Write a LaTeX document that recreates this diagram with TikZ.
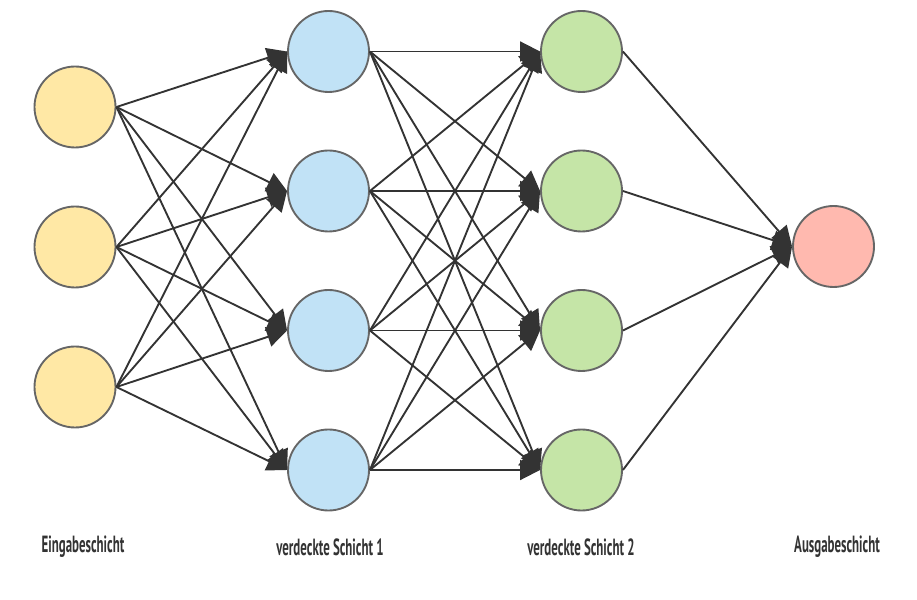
\documentclass[tikz,border=0pt]{standalone}
\usepackage{fontspec}
\newfontfamily\layerfont[UprightFont={* Bold}, FakeStretch=0.55]{PT Sans}
\usetikzlibrary{arrows.meta}
\definecolor{inyellow}{HTML}{FFE8A5}
\definecolor{hidblue}{HTML}{C1E2F6}
\definecolor{hidgreen}{HTML}{C5E5A7}
\definecolor{outred}{HTML}{FFB9AF}
\definecolor{ringgray}{HTML}{666666}
\definecolor{linkgray}{HTML}{333333}
\tikzset{
  neuron/.style={circle, draw=ringgray, line width=1.6pt, minimum size=2.43cm, inner sep=0pt},
  link/.style={draw=linkgray, line width=1.6pt, -{Triangle[length=0.6cm,width=0.6cm]}},
  layer/.style={font=\layerfont\fontsize{20}{22}\selectfont, text=linkgray}
}
\begin{document}
\begin{tikzpicture}[x=0.03cm, y=-0.03cm]
    \useasboundingbox (0,0) rectangle (917,600);
    % input layer
    \foreach \y [count=\i] in {107,247,387}
        \node[neuron, fill=inyellow] (in\i) at (75,\y) {};
    % hidden layer 1
    \foreach \y [count=\i] in {51.5,191,330.5,470}
        \node[neuron, fill=hidblue] (ha\i) at (328.5,\y) {};
    % hidden layer 2
    \foreach \y [count=\i] in {51.5,191,330.5,470}
        \node[neuron, fill=hidgreen] (hb\i) at (581.5,\y) {};
    % output layer
    \node[neuron, fill=outred] (out) at (833.5,246.5) {};
    % connections
    \foreach \i in {1,2,3}
        \foreach \j in {1,...,4}
            \draw[link] (in\i.east) -- (ha\j.west);
    \foreach \i in {1,...,4}
        \foreach \j in {1,...,4}
            \draw[link] (ha\i.east) -- (hb\j.west);
    \foreach \i in {1,...,4}
        \draw[link] (hb\i.east) -- (out.west);
    % labels
    \node[layer] (lin) at (83,547) {Eingabeschicht};
    \node[layer] (lha) at (330,547) {verdeckte Schicht 1};
    \node[layer] (lhb) at (581,547) {verdeckte Schicht 2};
    \node[layer] (lout) at (837,547) {Ausgabeschicht};
\end{tikzpicture}
\end{document}
